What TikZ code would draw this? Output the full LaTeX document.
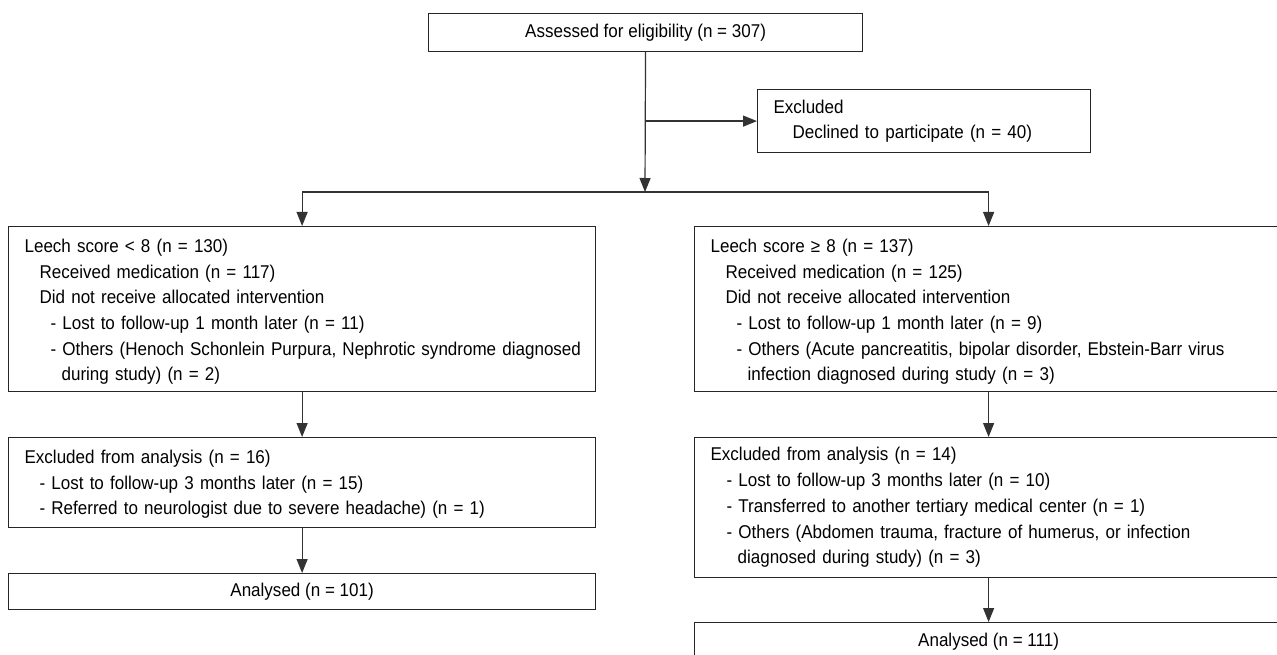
\documentclass[tikz,border=0pt]{standalone}
\usepackage{fontspec}
\setmainfont{Liberation Sans}[FakeStretch=0.92]
\usetikzlibrary{arrows.meta}

\begin{document}
\begin{tikzpicture}[x=1pt,y=-1pt,line width=1.2pt]
        \tikzstyle{box}=[rectangle,draw=black!85,anchor=north west,inner ysep=0pt,font=\fontsize{18.5pt}{25.7pt}\selectfont]
        \tikzstyle{listbox}=[box,align=left,inner xsep=16pt]
        \tikzstyle{edge}=[draw=black!80,-{Triangle[width=11pt,length=14pt]}]
        \path[use as bounding box,fill=white] (0,0) rectangle (1277,655);
       \begin{scope}
         \node [box,align=center,minimum width=434pt,minimum height=38pt] (assess) at (428,13) {Assessed for eligibility (n = 307)};
         \node [listbox,text width=301pt,minimum height=63pt] (excl) at (757,89) {Excluded\\
           \hspace*{19pt}Declined to participate (n = 40)};
         \coordinate (split) at (645,192);

         % left arm
         \node [listbox,text width=555pt,minimum height=165pt] (low1) at (8,226) {\rule{0pt}{19pt}Leech score < 8 (n = 130)\\
           \hspace*{15pt}Received medication (n = 117)\\
           \hspace*{15pt}Did not receive allocated intervention\\
           \hspace*{26pt}- Lost to follow-up 1 month later (n = 11)\\
           \mbox{\hspace*{26pt}- Others (Henoch Schonlein Purpura, Nephrotic syndrome diagnosed}\\
           \hspace*{37pt}during study) (n = 2)};
         \node [listbox,text width=555pt,minimum height=90pt] (low2) at (8,437) {\rule{0pt}{17pt}Excluded from analysis (n = 16)\\
           \hspace*{15pt}- Lost to follow-up 3 months later (n = 15)\\
           \hspace*{15pt}- Referred to neurologist due to severe headache) (n = 1)};
         \node [box,align=center,minimum width=587pt,minimum height=36pt] (low3) at (8,573) {Analysed (n = 101)};

         % right arm
         \node [listbox,text width=556pt,minimum height=165pt] (high1) at (694,226) {\rule{0pt}{19pt}Leech score ≥ 8 (n = 137)\\
           \hspace*{15pt}Received medication (n = 125)\\
           \hspace*{15pt}Did not receive allocated intervention\\
           \hspace*{26pt}- Lost to follow-up 1 month later (n = 9)\\
           \mbox{\hspace*{26pt}- Others (Acute pancreatitis, bipolar disorder, Ebstein-Barr virus}\\
           \hspace*{37pt}infection diagnosed during study (n = 3)};
         \node [listbox,text width=556pt,minimum height=140pt] (high2) at (694,437) {Excluded from analysis (n = 14)\\
           \hspace*{16pt}- Lost to follow-up 3 months later (n = 10)\\
           \hspace*{16pt}- Transferred to another tertiary medical center (n = 1)\\
           \hspace*{16pt}- Others (Abdomen trauma, fracture of humerus, or infection\\
           \hspace*{27pt}diagnosed during study) (n = 3)};
         \node [box,align=center,minimum width=588pt,minimum height=38pt] (high3) at (694,622) {Analysed (n = 111)};

         \path (assess) edge[edge] (split);
         \path (assess.south |- excl.west) edge[edge] (excl.west);
         \draw[black!80] (split -| low1.north) -- (split -| high1.north);
         \path (split -| low1.north) edge[edge] (low1.north);
         \path (split -| high1.north) edge[edge] (high1.north);
         \path (low1) edge[edge] (low2);
         \path (low2) edge[edge] (low3);
         \path (high1) edge[edge] (high2);
         \path (high2) edge[edge] (high3);
        \end{scope}
      \end{tikzpicture}
\end{document}
